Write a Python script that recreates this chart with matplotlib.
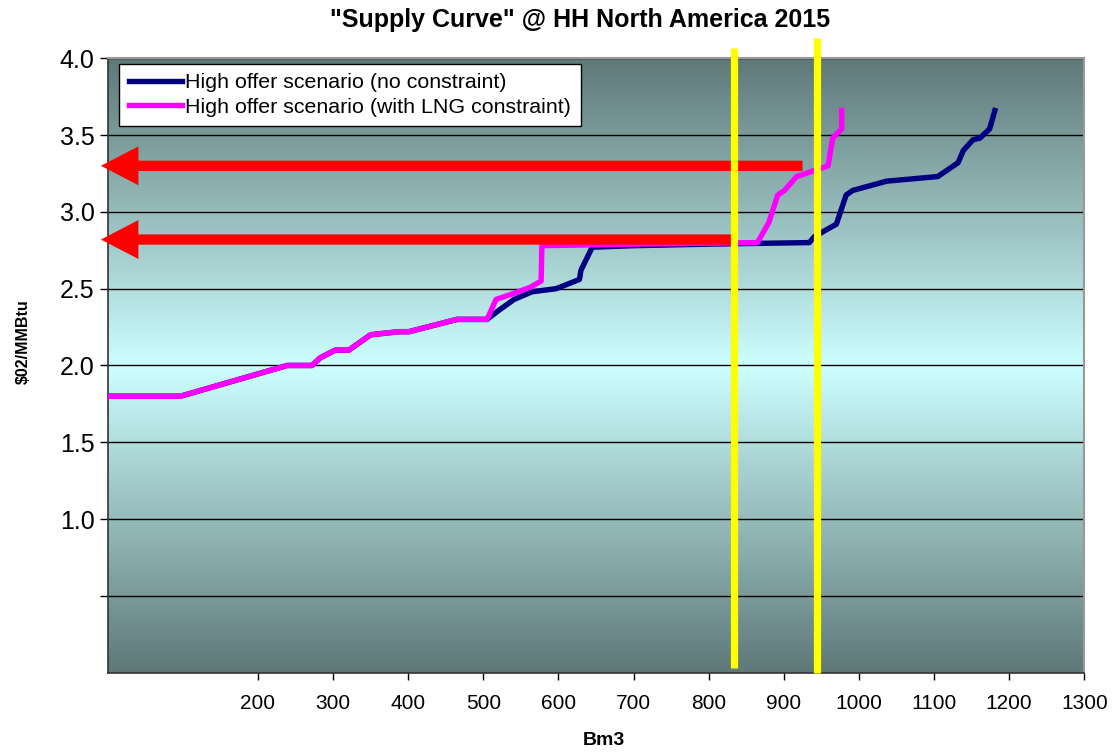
import numpy as np
import matplotlib
matplotlib.use("Agg")
import matplotlib.pyplot as plt

plt.rcParams['font.family'] = ['Liberation Sans', 'DejaVu Sans']

# supply curve, no constraint (Bm3, $/MMBtu)
base_x = [0, 97, 239, 272, 283, 303, 321, 350, 388, 401, 465, 505,
          521, 541, 565, 597, 628, 630, 645, 700, 800, 934, 941, 970,
          983, 992, 1037, 1105, 1132, 1139, 1152, 1161, 1174, 1181]
base_y = [1.80, 1.80, 2.00, 2.00, 2.05, 2.10, 2.10, 2.20, 2.22, 2.22, 2.30, 2.30,
          2.36, 2.43, 2.48, 2.50, 2.56, 2.62, 2.77, 2.78, 2.79, 2.80, 2.84, 2.92,
          3.11, 3.14, 3.20, 3.23, 3.32, 3.40, 3.47, 3.48, 3.54, 3.66]

# supply curve with LNG constraint
lng_x = [0, 97, 239, 272, 283, 303, 321, 350, 388, 401, 465, 505,
         517, 541, 563, 577, 578, 700, 865, 880, 892, 901, 917, 959,
         965, 977, 977]
lng_y = [1.80, 1.80, 2.00, 2.00, 2.05, 2.10, 2.10, 2.20, 2.22, 2.22, 2.30, 2.30,
         2.43, 2.47, 2.51, 2.55, 2.78, 2.79, 2.80, 2.93, 3.11, 3.14, 3.23, 3.30,
         3.48, 3.54, 3.66]

# price markers (arrows) and capacity markers (vertical lines)
arrow_y = [3.30, 2.82]
arrow_start = [925, 832]
cap_x = [834, 944]
cap_lo = [0.03, 0.0]
cap_hi = [4.07, 4.13]

x_ticks = [200, 300, 400, 500, 600, 700, 800, 900, 1000, 1100, 1200, 1300]
y_ticks = [0.5, 1.0, 1.5, 2.0, 2.5, 3.0, 3.5, 4.0]
y_labels = ['', '1.0', '1.5', '2.0', '2.5', '3.0', '3.5', '4.0']

fig = plt.figure(figsize=(11.17, 7.52), dpi=100)
ax = fig.add_axes([0.0964, 0.1055, 0.8743, 0.817])
ax.set_xlim(0, 1300)
ax.set_ylim(0, 4)

# vertical gradient: dark slate at top/bottom, pale cyan in the middle
dark = np.array([95, 120, 120]) / 255
light = np.array([205, 255, 255]) / 255
yy = np.linspace(0, 4, 400)
t = np.clip(np.abs(yy - 2.0) / 2.0, 0, 1)[:, None]
grad = light * (1 - t) + dark * t
ax.imshow(grad[:, None, :], extent=[0, 1300, 0, 4], origin='lower',
          aspect='auto', zorder=0, interpolation='bilinear')

for yv in y_ticks:
    ax.axhline(yv, color='black', lw=1.0, zorder=1)

ax.plot(base_x, base_y, color='#000080', lw=3.9, zorder=3,
        label='High offer scenario (no constraint)')
ax.plot(lng_x, lng_y, color='#ff00ff', lw=3.9, zorder=4,
        label='High offer scenario (with LNG constraint)')

for ya, xs in zip(arrow_y, arrow_start):
    ax.annotate('', xy=(-9, ya), xytext=(xs, ya), annotation_clip=False,
                arrowprops=dict(arrowstyle='simple,head_length=1.35,head_width=1.4,tail_width=0.37',
                                mutation_scale=20, color='red', lw=0,
                                shrinkA=0, shrinkB=0), zorder=5)

for xc, lo, hi in zip(cap_x, cap_lo, cap_hi):
    ax.plot([xc, xc], [lo, hi], color='yellow', lw=5.2, clip_on=False,
            solid_capstyle='butt', zorder=6)

ax.set_xticks(x_ticks)
ax.set_xticklabels([str(v) for v in x_ticks], fontsize=15)
ax.set_yticks(y_ticks)
ax.set_yticklabels(y_labels, fontsize=18)
ax.tick_params(axis='x', length=5, width=1, pad=10.5)
ax.tick_params(axis='y', length=6, width=1, pad=3.5)

for side in ['left', 'bottom']:
    ax.spines[side].set_color('#333333')
    ax.spines[side].set_linewidth(1.2)
for side in ['top', 'right']:
    ax.spines[side].set_color('#999999')
    ax.spines[side].set_linewidth(1.5)

leg = ax.legend(loc='upper left', bbox_to_anchor=(0.0115, 0.991), fontsize=15.4,
                frameon=True, fancybox=False, handlelength=2.5, handletextpad=0.15,
                borderpad=0.45, labelspacing=0.24, borderaxespad=0)
leg.get_frame().set_edgecolor('black')
leg.get_frame().set_linewidth(1.0)
leg.get_frame().set_alpha(1)
leg.set_zorder(7)

fig.text(0.5197, 0.974, '"Supply Curve" @ HH North America 2015', ha='center',
         va='center', fontsize=18, fontweight='bold')
fig.text(0.021, 0.546, '$02/MMBtu', rotation=90, ha='center', va='center',
         fontsize=11.5, fontweight='bold')
fig.text(0.541, 0.004, 'Bm3', ha='center', va='bottom', fontsize=14,
         fontweight='bold')

fig.savefig('out.png', dpi=100)
